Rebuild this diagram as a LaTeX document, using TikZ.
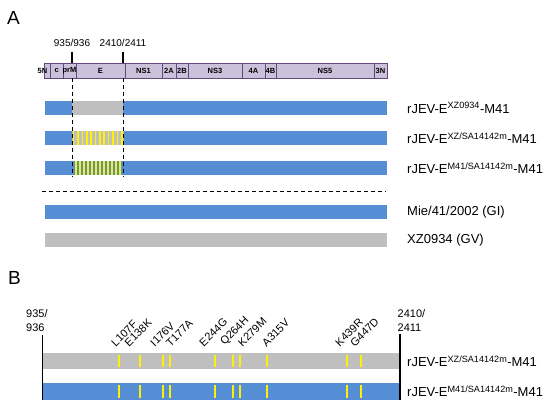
\documentclass[tikz,border=0pt]{standalone}
\usepackage{fontspec}
\setmainfont{Liberation Sans}
\usetikzlibrary{positioning,calc}
\definecolor{jevblue}{RGB}{85,142,213}
\definecolor{jevgray}{RGB}{191,191,191}
\definecolor{segfill}{RGB}{204,193,218}
\definecolor{segdraw}{RGB}{96,74,123}

\begin{document}
\begin{tikzpicture}[x=1pt,y=-1pt,
    seg/.style={draw=segdraw,fill=segfill,line width=0.9pt},
    seglabel/.style={inner sep=0pt,font=\fontsize{7.5}{8}\selectfont\bfseries},
    strain/.style={anchor=west,inner sep=0pt,font=\fontsize{13}{15}\selectfont},
    site/.style={anchor=south west,rotate=45,inner sep=0pt,font=\fontsize{11}{12}\selectfont},
    numlabel/.style={inner sep=0pt,font=\fontsize{10}{12}\selectfont},
    endlabel/.style={anchor=north west,align=left,inner sep=0pt,font=\fontsize{11}{14}\selectfont},
    panel/.style={inner sep=0pt,font=\fontsize{19}{22}\selectfont},
    junction/.style={dash pattern=on 4pt off 3pt,line width=0.9pt},
    stripe/.style={yellow,line width=1.6pt},
    mut/.style={yellow,line width=1.8pt}
]
    \useasboundingbox (0,0) rectangle (550,406);

    % panel A: genome and chimeras
    \node[panel] (A) at (13.5,17.5) {A};
    \foreach \a/\b/\m/\t in {44/50/42.5/5N, 50/63.5/56.7/c, 63.5/76/69.5/prM, 76/125/100.5/E,
        125/162/143.5/NS1, 162/176/169/2A, 176/188/182/2B, 188/242/215/NS3,
        242/265/253.5/4A, 265/276/270.5/4B, 276/374/325/NS5, 374/387/380.5/3N} {
        \draw[seg] (\a,63) rectangle (\b,78);
        \node[seglabel] (s\t) at (\m,70.5) {\t};
    }
    \coordinate (e1) at (72,52);
    \coordinate (e2) at (123,52);
    \node[numlabel] (e1lab) at (72,43) {935/936};
    \node[numlabel] (e2lab) at (123,43) {2410/2411};
    \draw[line width=1.3pt] (e1) -- ++(0,11);
    \draw[line width=1.3pt] (e2) -- ++(0,11);

    \fill[jevblue] (45,101) rectangle (387,115);
    \fill[jevgray] (72,101) rectangle (123,115);
    \fill[jevblue] (45,131.5) rectangle (387,145.5);
    \fill[jevgray] (72,131.5) rectangle (124,145.5);
    \foreach \i in {0,...,11}
        \draw[stripe] ({73.6+\i*4.38},131.5) -- ++(0,14);
    \fill[jevblue] (45,161.5) rectangle (387,175.5);
    \foreach \i in {0,...,11}
        \draw[stripe] ({75.8+\i*4.03},161.5) -- ++(0,14);

    \coordinate (d1) at (72,78);
    \coordinate (d2) at (123,78);
    \draw[junction] (d1) -- ++(0,99);
    \draw[junction] (d2) -- ++(0,99);
    \coordinate (h1) at (42,191);
    \coordinate (h2) at (386,191);
    \draw[junction] (h1) -- (h2);

    \fill[jevblue] (45,205) rectangle (387,219);
    \fill[jevgray] (45,233) rectangle (387,247);

    \node[strain] (vXZ) at (407,108) {rJEV-E\textsuperscript{XZ0934}-M41};
    \node[strain] (vXZSA) at (407,138.5) {rJEV-E\textsuperscript{XZ/SA14142m}-M41};
    \node[strain] (vM41SA) at (407,168.5) {rJEV-E\textsuperscript{M41/SA14142m}-M41};
    \node[strain] (vMie) at (407,212) {Mie/41/2002 (GI)};
    \node[strain] (vXZ0934) at (407,240) {XZ0934 (GV)};

    % panel B: E gene substitutions
    \node[panel] (B) at (14.5,278) {B};
    \fill[jevgray] (43,353) rectangle (400,369);
    \fill[jevblue] (43,383) rectangle (400,400);
    \foreach \x/\l/\t in {119/116/L107F, 140/129.3/E138K, 162.7/155/I176V, 169.7/170.7/T177A,
        215/204/E244G, 232.7/226/Q264H, 240.3/242.7/K279M, 267.3/266.7/A315V,
        346.7/340/K439R, 360.7/355/G447D} {
        \draw[mut] (\x,355) -- ++(0,12.5);
        \draw[mut] (\x,385) -- ++(0,13);
        \node[site] (m\t) at (\l,347.5) {\t};
    }
    \coordinate (b1) at (42.7,335);
    \coordinate (b2) at (400,334);
    \draw[line width=1.3pt] (b1) -- ++(0,65);
    \draw[line width=1.3pt] (b2) -- ++(0,66);
    \node[endlabel] (b1lab) at (26,309) {935/\\936};
    \node[endlabel] (b2lab) at (397.5,309) {2410/\\2411};

    \node[strain] (bXZSA) at (407,361) {rJEV-E\textsuperscript{XZ/SA14142m}-M41};
    \node[strain] (bM41SA) at (407,391) {rJEV-E\textsuperscript{M41/SA14142m}-M41};
\end{tikzpicture}
\end{document}
